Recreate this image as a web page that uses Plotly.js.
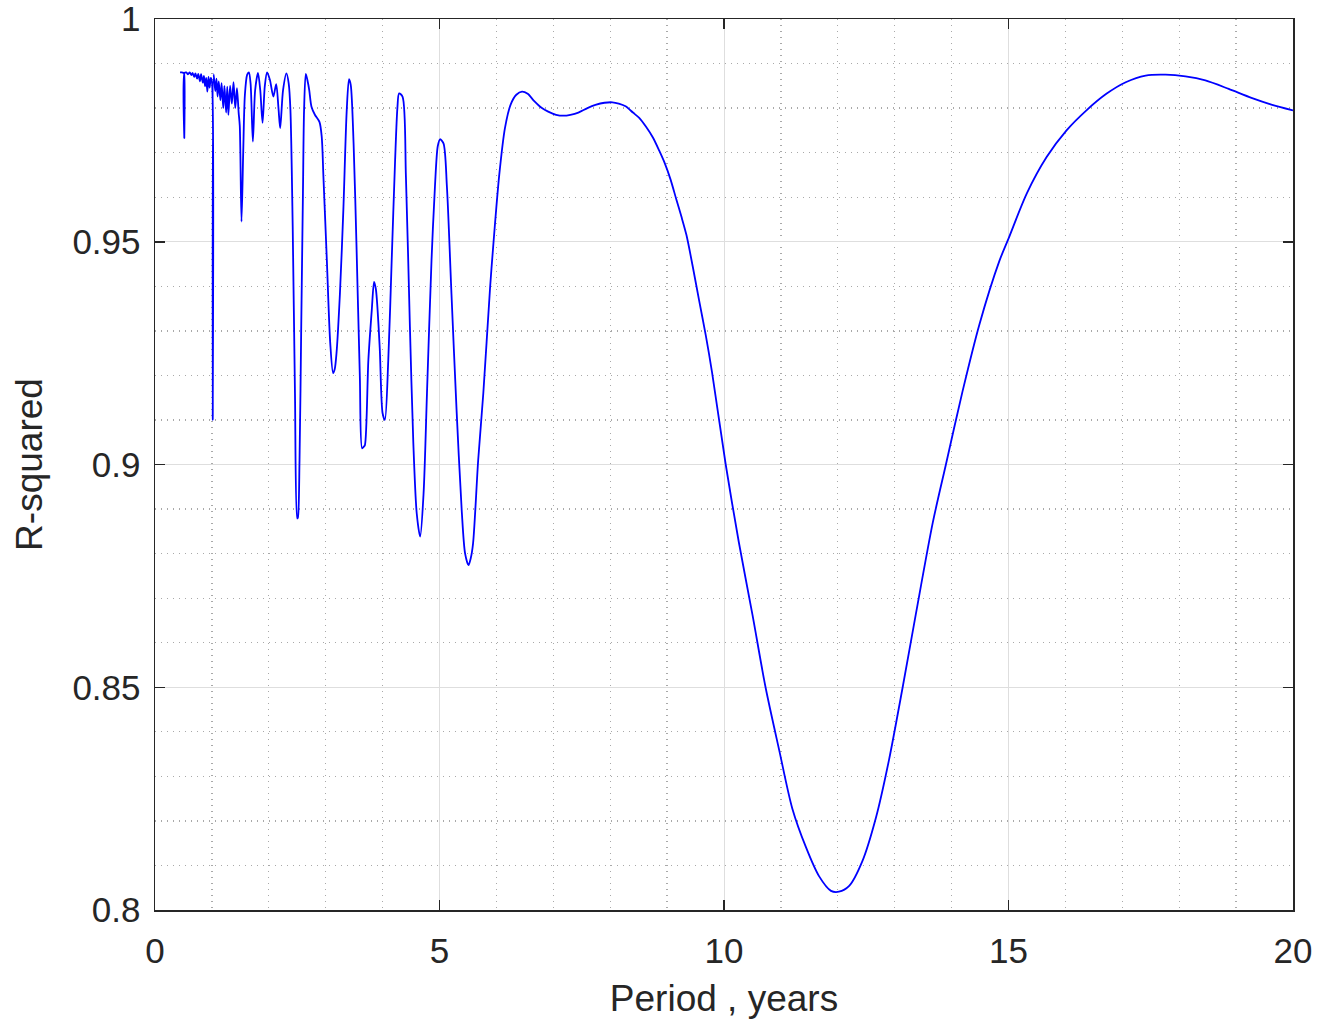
<!DOCTYPE html>
<html>
<head>
<meta charset="utf-8">
<script src="https://cdn.plot.ly/plotly-3.0.1.min.js"></script>
<style>
  html, body { margin: 0; padding: 0; background: #ffffff; }
  #chart { width: 1317px; height: 1024px; }
</style>
</head>
<body>
<div id="chart"></div>
<script>
// Period (years)
const period = [
  0.44, 0.47, 0.50, 0.51, 0.515, 0.52, 0.55, 0.58, 0.61, 0.64, 0.66, 0.69, 0.71, 0.74, 0.76, 0.79,
  0.81, 0.84, 0.86, 0.88, 0.90, 0.92, 0.94, 0.96, 0.98, 1.00, 1.015, 1.03, 1.06, 1.08, 1.10, 1.12,
  1.15, 1.17, 1.20, 1.22, 1.25, 1.27, 1.29, 1.32, 1.35, 1.38, 1.41, 1.44, 1.47, 1.49, 1.52, 1.55,
  1.58, 1.62, 1.65, 1.68, 1.72, 1.76, 1.81, 1.85, 1.89, 1.93, 1.97, 2.02, 2.08, 2.13, 2.17, 2.20,
  2.25, 2.31, 2.35, 2.38, 2.42, 2.46, 2.50, 2.51, 2.54, 2.57, 2.60, 2.62, 2.65, 2.68, 2.71, 2.75,
  2.81, 2.89, 2.93, 2.96, 3.02, 3.08, 3.13, 3.16, 3.19, 3.25, 3.31, 3.37, 3.41, 3.44, 3.49, 3.54,
  3.60, 3.64, 3.67, 3.69, 3.75, 3.81, 3.85, 3.88, 3.90, 3.95, 4.00, 4.04, 4.10, 4.16, 4.22, 4.26,
  4.29, 4.35, 4.41, 4.48, 4.54, 4.60, 4.66, 4.72, 4.78, 4.86, 4.92, 4.97, 5.01, 5.07, 5.13, 5.21,
  5.30, 5.39, 5.45, 5.51, 5.55, 5.59, 5.68, 5.77, 5.89, 5.95, 6.05, 6.15, 6.25, 6.35, 6.45, 6.55,
  6.67, 6.80, 6.91, 7.05, 7.18, 7.30, 7.44, 7.60, 7.74, 7.90, 8.04, 8.15, 8.27, 8.40, 8.51, 8.63,
  8.75, 8.86, 8.96, 9.06, 9.16, 9.25, 9.34, 9.45, 9.56, 9.68, 9.79, 10.03, 10.26, 10.50, 10.73, 10.97,
  11.20, 11.44, 11.67, 11.88, 12.02, 12.20, 12.43, 12.67, 12.90, 13.14, 13.37, 13.67, 13.90, 14.19, 14.49, 14.84,
  15.00, 15.32, 15.67, 16.02, 16.37, 16.72, 17.06, 17.41, 17.76, 18.11, 18.46, 18.87, 19.27, 19.62, 20.00
];

// R-squared
const rSquared = [
  0.9880, 0.9880, 0.9879, 0.9878, 0.9733, 0.9879, 0.9880, 0.9876, 0.9880, 0.9874, 0.9879, 0.9870, 0.9878, 0.9866, 0.9877, 0.9860,
  0.9876, 0.9857, 0.9872, 0.9849, 0.9868, 0.9837, 0.9870, 0.9846, 0.9868, 0.9860, 0.9100, 0.9876, 0.9838, 0.9866, 0.9826, 0.9860,
  0.9818, 0.9856, 0.9800, 0.9850, 0.9790, 0.9848, 0.9785, 0.9850, 0.9810, 0.9858, 0.9800, 0.9845, 0.9790, 0.9760, 0.9545, 0.9700,
  0.9830, 0.9875, 0.9880, 0.9855, 0.9725, 0.9840, 0.9879, 0.9840, 0.9767, 0.9850, 0.9880, 0.9863, 0.9826, 0.9854, 0.9800, 0.9755,
  0.9840, 0.9878, 0.9855, 0.9796, 0.9534, 0.9160, 0.8879, 0.8880, 0.9010, 0.9309, 0.9609, 0.9796, 0.9877, 0.9862, 0.9841, 0.9803,
  0.9785, 0.9769, 0.9736, 0.9646, 0.9459, 0.9272, 0.9205, 0.9215, 0.9250, 0.9384, 0.9571, 0.9796, 0.9865, 0.9852, 0.9721, 0.9497,
  0.9197, 0.9036, 0.9040, 0.9044, 0.9235, 0.9347, 0.9410, 0.9395, 0.9369, 0.9260, 0.9115, 0.9100, 0.9235, 0.9459, 0.9684, 0.9800,
  0.9833, 0.9826, 0.9646, 0.9309, 0.9048, 0.8890, 0.8838, 0.8935, 0.9160, 0.9459, 0.9624, 0.9715, 0.9730, 0.9721, 0.9624, 0.9384,
  0.9122, 0.8898, 0.8800, 0.8774, 0.8790, 0.8823, 0.9010, 0.9160, 0.9399, 0.9500, 0.9650, 0.9755, 0.9808, 0.9830, 0.9837, 0.9832,
  0.9815, 0.9800, 0.9792, 0.9785, 0.9783, 0.9785, 0.9790, 0.9800, 0.9807, 0.9812, 0.9813, 0.9810, 0.9804, 0.9790, 0.9778, 0.9758,
  0.9734, 0.9705, 0.9676, 0.9640, 0.9596, 0.9557, 0.9515, 0.9445, 0.9370, 0.9290, 0.9207, 0.9000, 0.8826, 0.8663, 0.8500, 0.8359,
  0.8228, 0.8141, 0.8076, 0.8043, 0.8041, 0.8054, 0.8109, 0.8207, 0.8337, 0.8500, 0.8663, 0.8870, 0.9000, 0.9163, 0.9315, 0.9457,
  0.9507, 0.9608, 0.9690, 0.9750, 0.9795, 0.9832, 0.9858, 0.9873, 0.9875, 0.9871, 0.9862, 0.9843, 0.9823, 0.9808, 0.9795
];

const xTitle = 'Period , years';
const yTitle = 'R-squared';

const axisColor = '#262626';
const fontFamily = '"Liberation Sans", Arial, Helvetica, sans-serif';

const trace = {
  x: period,
  y: rSquared,
  type: 'scatter',
  mode: 'lines',
  line: { color: 'rgb(0,0,255)', width: 1.8, shape: 'spline', smoothing: 0.8 },
  hoverinfo: 'x+y'
};

const layout = {
  width: 1317,
  height: 1024,
  margin: { l: 155, r: 24, t: 19, b: 114 },
  paper_bgcolor: '#ffffff',
  plot_bgcolor: '#ffffff',
  showlegend: false,
  font: { family: fontFamily, color: axisColor },
  xaxis: {
    range: [0, 20],
    tick0: 0,
    dtick: 5,
    ticks: 'inside',
    ticklen: 10,
    tickwidth: 1.5,
    tickcolor: axisColor,
    showline: true,
    linecolor: axisColor,
    linewidth: 1.5,
    mirror: 'ticks',
    showgrid: true,
    gridcolor: '#dedede',
    gridwidth: 1,
    zeroline: false,
    tickfont: { size: 35, color: axisColor, family: fontFamily },
    ticklabelstandoff: 9,
    ticklabeloverflow: 'allow',
    minor: { dtick: 1, tick0: 0, showgrid: true, gridcolor: '#a9a9a9', griddash: '1px,5px', gridwidth: 1.3 },
    title: { text: xTitle, font: { size: 37, color: axisColor, family: fontFamily }, standoff: 16 }
  },
  yaxis: {
    range: [0.8, 1],
    tick0: 0.8,
    dtick: 0.05,
    ticks: 'inside',
    ticklen: 10,
    tickwidth: 1.5,
    tickcolor: axisColor,
    showline: true,
    linecolor: axisColor,
    linewidth: 1.5,
    mirror: 'ticks',
    showgrid: true,
    gridcolor: '#dedede',
    gridwidth: 1,
    zeroline: false,
    tickfont: { size: 35, color: axisColor, family: fontFamily },
    ticklabelstandoff: 6,
    ticklabeloverflow: 'allow',
    minor: { dtick: 0.01, tick0: 0.8, showgrid: true, gridcolor: '#a9a9a9', griddash: '1px,5px', gridwidth: 1.3 },
    title: { text: yTitle, font: { size: 37, color: axisColor, family: fontFamily }, standoff: 18 }
  }
};

Plotly.newPlot('chart', [trace], layout, { displayModeBar: false, staticPlot: true });
</script>
</body>
</html>
